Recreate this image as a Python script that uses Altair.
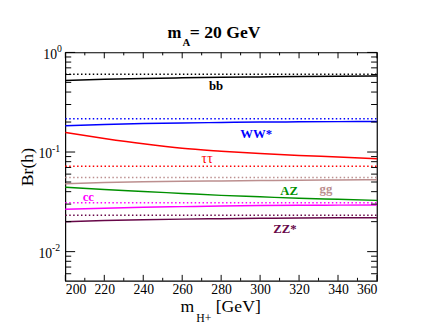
import altair as alt
import pandas as pd

# ---- data ----
mass = [200, 220, 240, 260, 280, 300, 320, 340, 360]
series = ["bb", "WW*", "ττ", "gg", "AZ", "cc", "ZZ*"]
colors = ["#000000", "#0000ff", "#ff0000", "#bc8f8f", "#009000", "#ff00ff", "#670748"]

br_bb = [0.522, 0.537, 0.548, 0.556, 0.563, 0.568, 0.573, 0.577, 0.580]
br_ww = [0.184, 0.189, 0.193, 0.196, 0.198, 0.200, 0.201, 0.202, 0.203]
br_tautau = [0.157, 0.137, 0.121, 0.109, 0.102, 0.0965, 0.0922, 0.0892, 0.0858]
br_gg = [0.0481, 0.0494, 0.0503, 0.0509, 0.0513, 0.0517, 0.0521, 0.0524, 0.0527]
br_az = [0.0443, 0.0420, 0.0402, 0.0384, 0.0367, 0.0355, 0.0343, 0.0335, 0.0327]
br_cc = [0.0266, 0.0273, 0.0279, 0.0283, 0.0287, 0.0290, 0.0292, 0.0293, 0.0294]
br_zz = [0.0200, 0.0205, 0.0209, 0.0212, 0.0214, 0.0216, 0.0218, 0.0219, 0.0219]

dotted_series = ["bb", "WW*", "ττ", "gg", "cc", "ZZ*"]
dotted_br = [0.605, 0.216, 0.0718, 0.0556, 0.0310, 0.0232]

label_text = ["bb", "WW*", "ττ", "gg", "AZ", "cc", "ZZ*"]
label_mass = [277.4, 298.0, 272.8, 333.8, 314.9, 211.8, 312.7]
label_br = [0.463, 0.1525, 0.0845, 0.0428, 0.0405, 0.0349, 0.0167]

x_major = [200, 220, 240, 260, 280, 300, 320, 340, 360]
x_minor = [210, 230, 250, 270, 290, 310, 330, 350]
y_major = [1, 0.1, 0.01]
y_exp = ["0", "-1", "-2"]
y_minor = [0.006, 0.007, 0.008, 0.009,
           0.02, 0.03, 0.04, 0.05, 0.06, 0.07, 0.08, 0.09,
           0.2, 0.3, 0.4, 0.5, 0.6, 0.7, 0.8, 0.9]

W, H = 318, 233
SERIF = "Liberation Serif"

# ---- tables ----
solid_vals = [br_bb, br_ww, br_tautau, br_gg, br_az, br_cc, br_zz]
solid_df = pd.DataFrame(
    [{"series": s, "mass": m, "br": v} for s, vals in zip(series, solid_vals) for m, v in zip(mass, vals)]
)
dotted_df = pd.DataFrame(
    [{"series": s, "mass": m, "br": v} for s, v in zip(dotted_series, dotted_br) for m in (mass[0], mass[-1])]
)
label_df = pd.DataFrame({"series": series, "text": label_text, "mass": label_mass, "br": label_br})
ymaj_df = pd.DataFrame({"v": y_major, "exp": y_exp})
ymin_df = pd.DataFrame({"v": y_minor})
xmaj_df = pd.DataFrame({"v": x_major})
xmin_df = pd.DataFrame({"v": x_minor})

xscale = alt.Scale(domain=[200, 360], nice=False, zero=False)
yscale = alt.Scale(type="log", domain=[0.0051, 1], nice=False)
color = alt.Color("series:N", scale=alt.Scale(domain=series, range=colors), legend=None)
xaxis = alt.Axis(values=x_major, ticks=False, domain=False, grid=False, title=None,
                 labelFont=SERIF, labelFontSize=14, labelPadding=2, labelColor="black")

X = lambda f: alt.X(f, type="quantitative", scale=xscale, axis=xaxis)
Y = lambda f: alt.Y(f, type="quantitative", scale=yscale, axis=None)

solid = alt.Chart(solid_df).mark_line(strokeWidth=1.5, interpolate="monotone").encode(
    x=X("mass"), y=Y("br"), color=color, detail="series:N")
dotted = alt.Chart(dotted_df).mark_line(strokeWidth=1.5, strokeDash=[1.5, 2.5]).encode(
    x=X("mass"), y=Y("br"), color=color, detail="series:N")

labels_bold = alt.Chart(label_df).transform_filter("datum.text != 'ττ'").mark_text(
    font=SERIF, fontSize=13, fontWeight="bold", baseline="middle").encode(
    x=X("mass"), y=Y("br"), text="text:N", color=color)
labels_tau = alt.Chart(label_df).transform_filter("datum.text == 'ττ'").mark_text(
    font=SERIF, fontSize=14, baseline="middle").encode(
    x=X("mass"), y=Y("br"), text="text:N", color=color)

# inward ticks on all four sides
def yticks(df, length):
    left = alt.Chart(df).mark_rule(color="black", strokeWidth=1).encode(
        y=Y("v"), x=alt.value(0), x2=alt.value(length))
    right = alt.Chart(df).mark_rule(color="black", strokeWidth=1).encode(
        y=Y("v"), x=alt.value(W - length), x2=alt.value(W))
    return [left, right]

def xticks(df, length):
    bottom = alt.Chart(df).mark_rule(color="black", strokeWidth=1).encode(
        x=X("v"), y=alt.value(H), y2=alt.value(H - length))
    top = alt.Chart(df).mark_rule(color="black", strokeWidth=1).encode(
        x=X("v"), y=alt.value(0), y2=alt.value(length))
    return [bottom, top]

# y tick labels: "10" with superscript exponent
ylab_base0 = alt.Chart(ymaj_df).transform_filter("datum.exp == '0'").mark_text(
    font=SERIF, fontSize=14, align="right", baseline="middle", dy=3, color="black").encode(
    y=Y("v"), x=alt.value(-8.5), text=alt.value("10"))
ylab_exp0 = alt.Chart(ymaj_df).transform_filter("datum.exp == '0'").mark_text(
    font=SERIF, fontSize=10, align="left", baseline="middle", dy=-3.5, color="black").encode(
    y=Y("v"), x=alt.value(-8.5), text="exp:N")
ylab_base = alt.Chart(ymaj_df).transform_filter("datum.exp != '0'").mark_text(
    font=SERIF, fontSize=14, align="right", baseline="middle", dy=2, color="black").encode(
    y=Y("v"), x=alt.value(-13.5), text=alt.value("10"))
ylab_exp = alt.Chart(ymaj_df).transform_filter("datum.exp != '0'").mark_text(
    font=SERIF, fontSize=10, align="left", baseline="middle", dy=-3.5, color="black").encode(
    y=Y("v"), x=alt.value(-13.5), text="exp:N")

# titles
def txt(s, x, y, size, weight="normal", align="left", baseline="alphabetic", angle=0):
    kw = dict(font=SERIF, fontSize=size, fontWeight=weight, align=align, baseline=baseline, color="black")
    if angle:
        kw["angle"] = angle
    return alt.Chart(ymaj_df).transform_filter("datum.exp == '0'").mark_text(**kw).encode(
        x=alt.value(x), y=alt.value(y), text=alt.value(s))

title_m = txt("m", 118.5, -14.5, 17, "bold", align="right")
title_A = txt("A", 119.5, -6.5, 11, "bold")
title_rest = txt("= 20 GeV", 127, -14.5, 18, "bold")
xt_m = txt("m", 131.5, 265, 18, align="right")
xt_h = txt("H+", 133.5, 275, 12)
xt_gev = txt("[GeV]", 153.5, 265, 18)
yt = txt("Br(h)", -37.5, 117, 18, align="center", baseline="middle", angle=270)

layers = [solid, dotted, labels_bold, labels_tau]
layers += yticks(ymaj_df, 10) + yticks(ymin_df, 6)
layers += xticks(xmaj_df, 6) + xticks(xmin_df, 3)
layers += [ylab_base0, ylab_exp0, ylab_base, ylab_exp,
           title_m, title_A, title_rest, xt_m, xt_h, xt_gev, yt]

chart = alt.layer(*layers).properties(
    width=W, height=H,
    autosize=alt.AutoSizeParams(type="none"),
    padding={"left": 58.5, "top": 42, "right": 48, "bottom": 51},
    background="white",
).configure_view(stroke="black", strokeWidth=1.2)

chart.save("out.html", embed_options={"renderer": "svg", "actions": False})
